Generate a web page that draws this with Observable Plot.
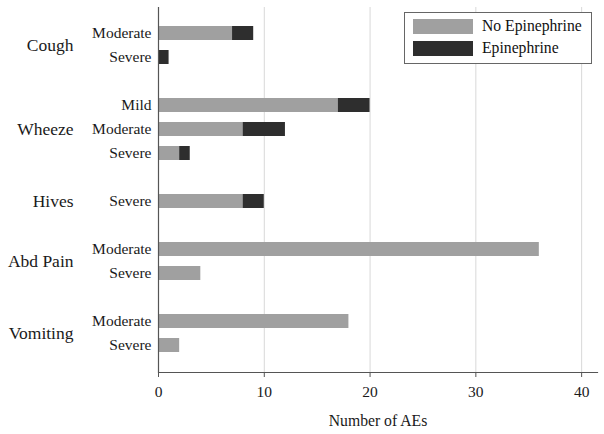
<!DOCTYPE html>
<html>
<head>
<meta charset="utf-8">
<script src="https://cdn.jsdelivr.net/npm/d3@7"></script>
<script src="https://cdn.jsdelivr.net/npm/@observablehq/plot@0.6"></script>
<style>
  html, body { margin: 0; padding: 0; background: #fff; }
  body, body * { font-family: 'Liberation Serif', 'Times New Roman', serif; }
  #wrap { position: relative; width: 604px; height: 434px; }
  #legend { position: absolute; left: 404px; top: 12px; width: 186px; height: 50px; border: 1px solid #666; background: #fff; }
  .sw { position: absolute; left: 8px; width: 60px; height: 15px; }
  .lt { position: absolute; left: 77px; font-size: 15.7px; color: #111; line-height: 16px; white-space: nowrap; }
</style>
</head>
<body>
<div id="wrap"><div id="legend"></div></div>
<script>
const groups = ["Cough", "Wheeze", "Hives", "Abd Pain", "Vomiting"];
const severities = [["Moderate", "Severe"], ["Mild", "Moderate", "Severe"], ["Severe"], ["Moderate", "Severe"], ["Moderate", "Severe"]];
const noEpinephrine = [[7, 0], [17, 8, 2], [8], [36, 4], [18, 2]];
const epinephrine = [[2, 1], [3, 4, 1], [2], [0, 0], [0, 0]];
const treatments = ["No Epinephrine", "Epinephrine"];
const colors = ["#a0a0a0", "#2e2e2e"];
const xTicks = [0, 10, 20, 30, 40];

// build keys and long data
const domain = [];
const rows = [];
const labelOf = {};
const groupInfo = [];
groups.forEach((g, gi) => {
  if (gi > 0) domain.push("gap" + gi);
  const keys = [];
  severities[gi].forEach((s, si) => {
    const key = g + "|" + s;
    keys.push(key);
    domain.push(key);
    labelOf[key] = s;
    rows.push({key, group: g, severity: s, treatment: treatments[0], value: noEpinephrine[gi][si]});
    rows.push({key, group: g, severity: s, treatment: treatments[1], value: epinephrine[gi][si]});
  });
  groupInfo.push({group: g, keys, odd: keys.length % 2 === 1, anchor: keys[Math.floor((keys.length - 1) / 2)]});
});

const FONT = "'Liberation Serif', 'Times New Roman', serif";
const chart = Plot.plot({
  width: 604,
  height: 434,
  marginTop: 7,
  marginBottom: 62,
  marginLeft: 158,
  marginRight: 7,
  style: {fontFamily: FONT, fontSize: "15.5px", color: "#1a1a1a", background: "transparent"},
  x: {domain: [0, 41.5]},
  y: {type: "band", domain, paddingInner: 0.4, paddingOuter: 0.78, align: 0.5},
  color: {domain: treatments, range: colors},
  marks: [
    Plot.gridX(xTicks.slice(1), {stroke: "#d8d8d8", strokeOpacity: 1, strokeWidth: 1}),
    Plot.barX(rows, {x: "value", y: "key", fill: "treatment", order: treatments}),
    Plot.ruleX([0], {stroke: "#555", strokeWidth: 1.2}),
    Plot.frame({anchor: "bottom", stroke: "#555", strokeWidth: 1.2}),
    Plot.axisX(xTicks, {tickSize: 5, tickPadding: 8, stroke: "#555", fontSize: 15.5, fontFamily: FONT, label: null}),
    Plot.axisY({tickSize: 0, tickPadding: 7, tickFormat: k => labelOf[k] || "", fontSize: 15.5, fontFamily: FONT, label: null}),
    Plot.text(groupInfo.filter(d => d.odd), {y: "anchor", text: "group", frameAnchor: "left", dx: -85, textAnchor: "end", fontSize: 17.5, fontFamily: FONT}),
    Plot.text(groupInfo.filter(d => !d.odd), {y: "anchor", text: "group", frameAnchor: "left", dx: -85, dy: 12, textAnchor: "end", fontSize: 17.5, fontFamily: FONT}),
    Plot.text(["Number of AEs"], {frameAnchor: "bottom", dy: 53, fontSize: 15.7, fontFamily: FONT})
  ]
});
document.getElementById("wrap").prepend(chart);

const legend = document.getElementById("legend");
treatments.forEach((t, i) => {
  const sw = document.createElement("div");
  sw.className = "sw";
  sw.style.top = (6 + i * 22) + "px";
  sw.style.background = colors[i];
  legend.appendChild(sw);
  const lt = document.createElement("div");
  lt.className = "lt";
  lt.style.top = (5 + i * 22) + "px";
  lt.textContent = t;
  legend.appendChild(lt);
});
</script>
</body>
</html>
